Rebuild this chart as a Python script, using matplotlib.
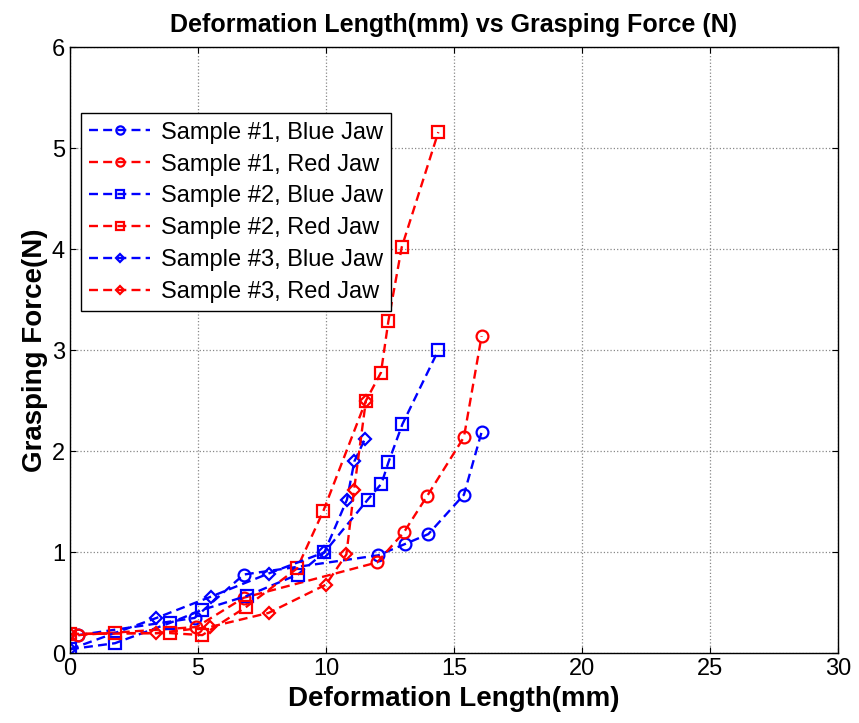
import matplotlib
matplotlib.use("Agg")
import matplotlib.pyplot as plt

plt.rcParams['font.family'] = ['Liberation Sans', 'DejaVu Sans']

# Sample #1
s1_blue_x = [0.33, 4.87, 6.79, 12.04, 13.07, 14.0, 15.39, 16.08]
s1_blue_y = [0.18, 0.35, 0.78, 0.97, 1.08, 1.18, 1.57, 2.19]
s1_red_x = [0.33, 4.94, 6.79, 12.0, 13.05, 13.96, 15.39, 16.08]
s1_red_y = [0.18, 0.26, 0.55, 0.90, 1.20, 1.56, 2.14, 3.14]
# Sample #2
s2_blue_x = [0.0, 1.76, 3.9, 5.17, 6.93, 8.9, 9.94, 11.63, 12.17, 12.44, 12.99, 14.39]
s2_blue_y = [0.04, 0.10, 0.30, 0.43, 0.57, 0.78, 1.00, 1.52, 1.68, 1.89, 2.27, 3.00]
s2_red_x = [0.0, 1.76, 3.9, 5.17, 6.89, 8.87, 9.9, 11.56, 12.15, 12.44, 12.96, 14.39]
s2_red_y = [0.19, 0.20, 0.20, 0.18, 0.46, 0.84, 1.41, 2.50, 2.78, 3.29, 4.02, 5.16]
# Sample #3
s3_blue_x = [0.0, 3.38, 5.5, 7.76, 9.94, 10.82, 11.11, 11.52]
s3_blue_y = [0.04, 0.35, 0.56, 0.79, 1.00, 1.52, 1.90, 2.12]
s3_red_x = [0.0, 3.38, 5.46, 7.76, 10.0, 10.8, 11.1, 11.56]
s3_red_y = [0.19, 0.20, 0.26, 0.40, 0.68, 0.98, 1.62, 2.50]

labels = ['Sample #1, Blue Jaw', 'Sample #1, Red Jaw',
          'Sample #2, Blue Jaw', 'Sample #2, Red Jaw',
          'Sample #3, Blue Jaw', 'Sample #3, Red Jaw']

x_ticks = [0, 5, 10, 15, 20, 25, 30]
y_ticks = [0, 1, 2, 3, 4, 5, 6]

fig = plt.figure(figsize=(8.59, 7.23), dpi=100)
ax = fig.add_axes([0.0814, 0.0964, 0.8941, 0.8382])

series = [
    (s1_blue_x, s1_blue_y, 'blue', 'o'),
    (s1_red_x, s1_red_y, 'red', 'o'),
    (s2_blue_x, s2_blue_y, 'blue', 's'),
    (s2_red_x, s2_red_y, 'red', 's'),
    (s3_blue_x, s3_blue_y, 'blue', 'D'),
    (s3_red_x, s3_red_y, 'red', 'D'),
]
handles = []
for (xs, ys, c, m), lab in zip(series, labels):
    ms = 6.5 if m == 'D' else 8.5
    h, = ax.plot(xs, ys, linestyle=(0, (3.8, 2.2)), color=c, marker=m,
                 markersize=ms, markerfacecolor='none', markeredgecolor=c,
                 markeredgewidth=1.6, linewidth=1.7, label=lab)
    handles.append(h)

ax.set_xlim(0, 30)
ax.set_ylim(0, 6)
ax.set_xticks(x_ticks)
ax.set_yticks(y_ticks)
ax.tick_params(direction='in', top=True, right=True, labelsize=17, length=4)
ax.grid(True, color='#888888', linestyle=':', linewidth=0.9)
for sp in ax.spines.values():
    sp.set_linewidth(1.0)

ax.set_title('Deformation Length(mm) vs Grasping Force (N)', fontsize=18,
             fontweight='bold', pad=11)
ax.set_xlabel('Deformation Length(mm)', fontsize=20, fontweight='bold', labelpad=4)
ax.set_ylabel('Grasping Force(N)', fontsize=20, fontweight='bold', labelpad=3)

leg = ax.legend(handles=handles, loc='upper left', bbox_to_anchor=(0.014, 0.891),
                fontsize=17, frameon=True, fancybox=False, edgecolor='black',
                framealpha=1, borderaxespad=0, handlelength=2.6, markerscale=0.7,
                labelspacing=0.42, borderpad=0.35, handletextpad=0.45)
leg.get_frame().set_linewidth(1.0)

fig.savefig('out.png', dpi=100)
